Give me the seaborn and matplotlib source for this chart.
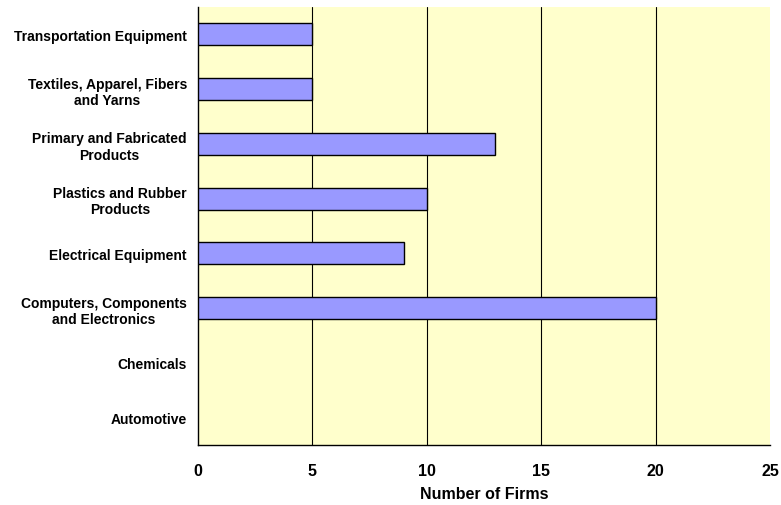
import matplotlib
matplotlib.use("Agg")
import matplotlib.pyplot as plt
import seaborn as sns
import pandas as pd
import numpy as np

categories = [
    "Transportation Equipment",
    "Textiles, Apparel, Fibers\nand Yarns",
    "Primary and Fabricated\nProducts",
    "Plastics and Rubber\nProducts",
    "Electrical Equipment",
    "Computers, Components\nand Electronics",
    "Chemicals",
    "Automotive",
]
firms = [5, 5, 13, 10, 9, 20, 0, 0]
x_ticks = [0, 5, 10, 15, 20, 25]

sns.set_style("white")
plt.rcParams["font.family"] = ["Liberation Sans", "DejaVu Sans"]
plt.rcParams["font.weight"] = "bold"
plt.rcParams["text.color"] = "black"
plt.rcParams["xtick.color"] = "black"
plt.rcParams["ytick.color"] = "black"

df = pd.DataFrame({"Category": categories, "Firms": firms})

fig = plt.figure(figsize=(7.81, 5.06), dpi=100)
ax = fig.add_axes([198/781, 60/506, 572/781, 438/506])
ax.set_facecolor("#FFFFCC")

sns.barplot(data=df, y="Category", x="Firms", order=categories, orient="h",
            color="#9999FF", saturation=1, width=0.4, edgecolor="black",
            linewidth=1, ax=ax, zorder=3)
for p in ax.patches:
    if p.get_width() == 0:
        p.set_visible(False)

ax.set_xlim(0, 25)
ax.set_ylim(len(categories) - 0.5, -0.5)
ax.set_xticks(x_ticks)
ax.set_xticklabels([str(t) for t in x_ticks], fontsize=11.5, fontweight="bold")
for t in x_ticks[1:-1]:
    ax.axvline(t, color="black", lw=0.8, zorder=1)

ax.set_yticks(range(len(categories)))
ax.set_yticklabels(categories, fontsize=10, fontweight="bold", ha="right",
                   multialignment="center", linespacing=1.2)
ax.tick_params(axis="y", which="major", length=0, pad=8)
ax.set_yticks(np.arange(-0.5, len(categories), 1), minor=True)
ax.tick_params(axis="y", which="minor", length=5, width=0.8, color="black", direction="out")
ax.tick_params(axis="x", which="major", length=5, width=0.8, color="black",
               direction="out", pad=8)

ax.set_xlabel("Number of Firms", fontsize=11.5, fontweight="bold", labelpad=6,
              color="black")
ax.set_ylabel("")

for s in ["top", "right"]:
    ax.spines[s].set_visible(False)
for s in ["left", "bottom"]:
    ax.spines[s].set_color("black")
    ax.spines[s].set_linewidth(1)

fig.savefig("out.png", dpi=100)
